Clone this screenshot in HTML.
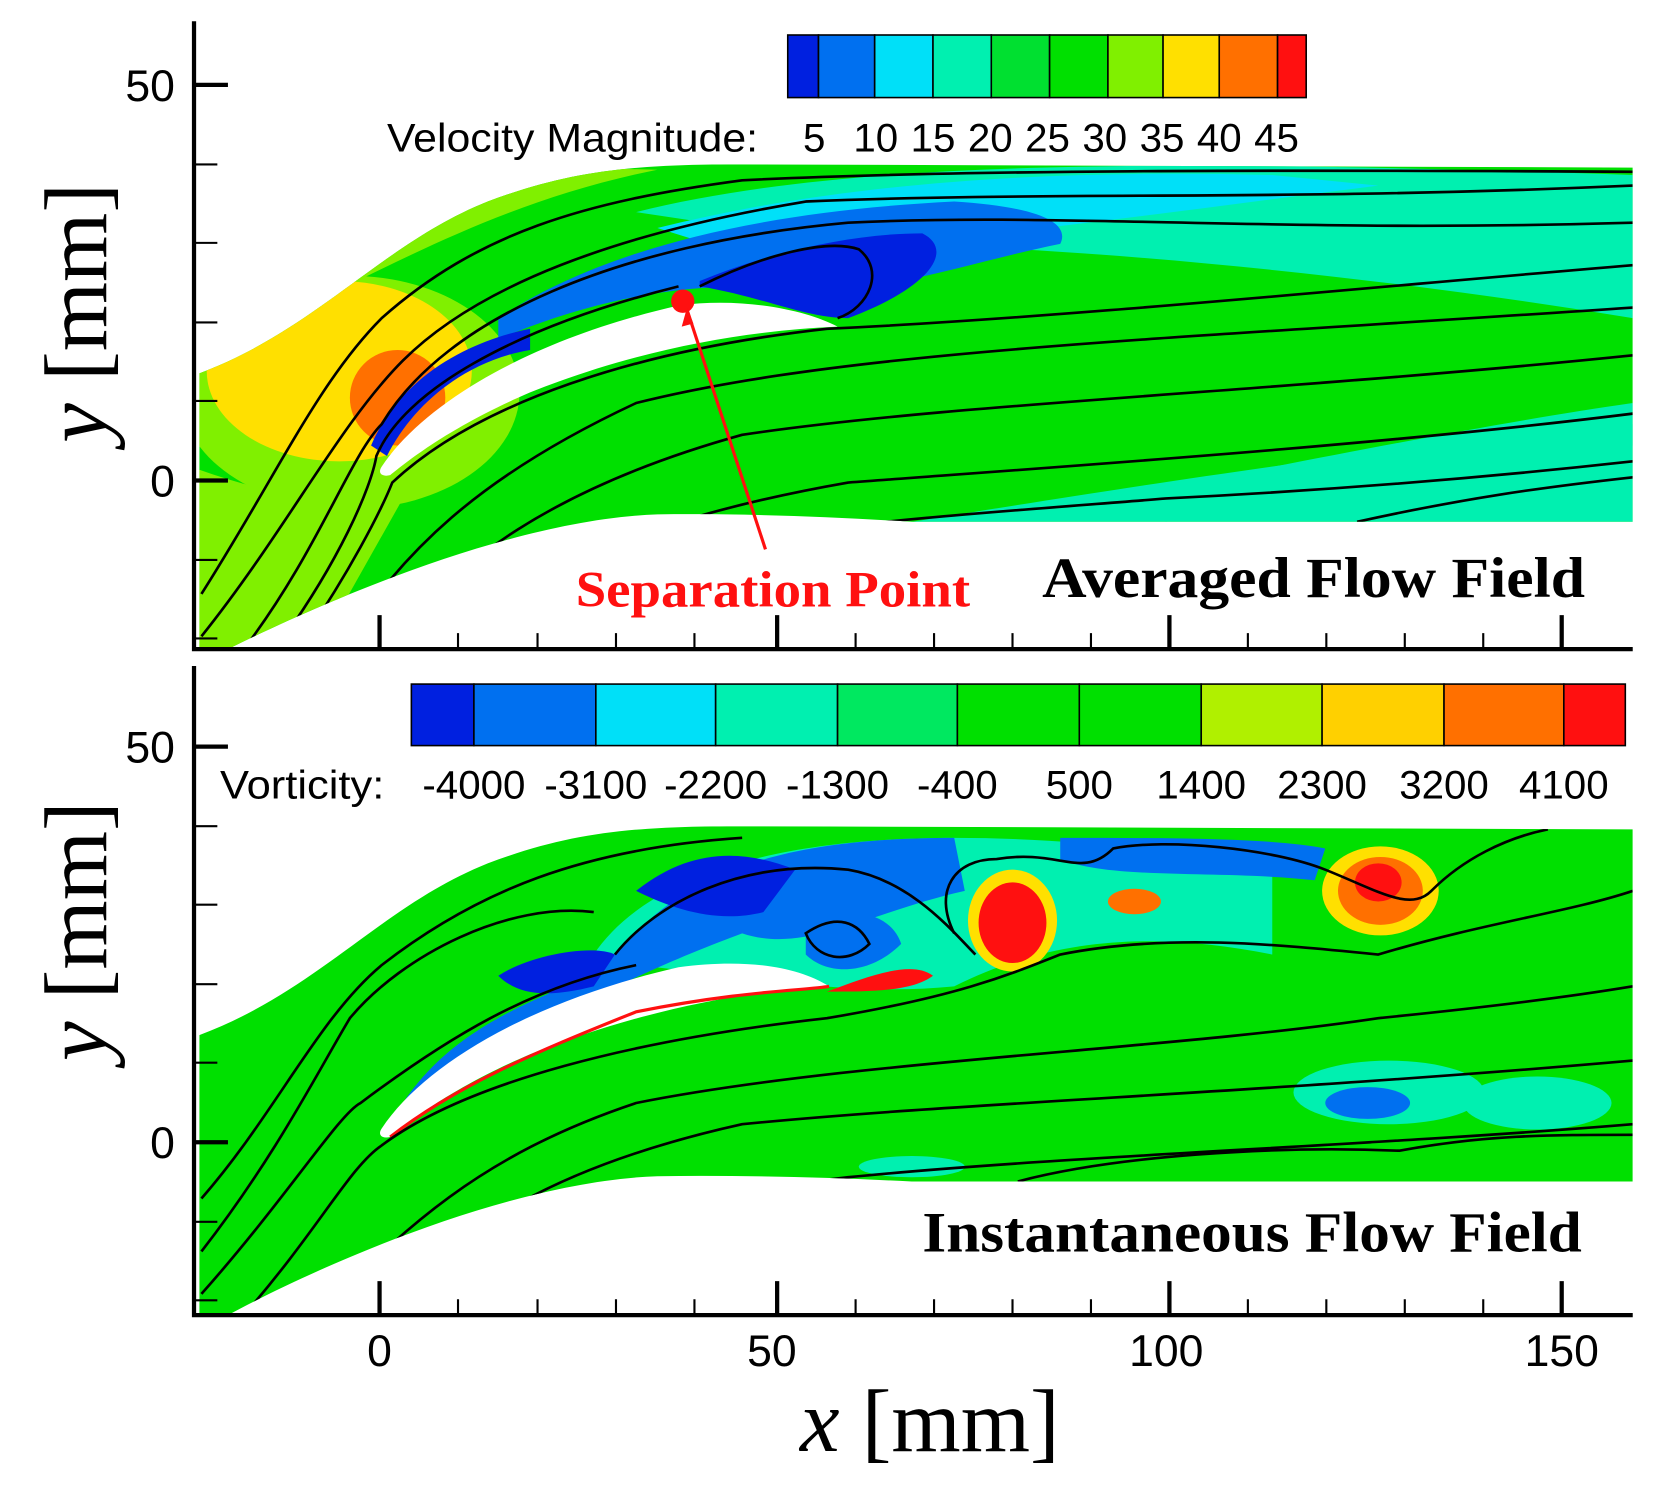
<!DOCTYPE html>
<html><head><meta charset="utf-8"><style>html,body{margin:0;padding:0;background:#fff}svg{display:block}</style></head>
<body>
<svg width="1655" height="1488" viewBox="0 0 1561 1403" preserveAspectRatio="none" xmlns="http://www.w3.org/2000/svg">
<defs>
<clipPath id="d1"><path d="M188,352 C300,310 360,230 460,190 C540,160 600,155 700,155 L1540,158 L1540,492 L860,492 C780,487 700,484 620,485 C480,490 300,570 215,612 L188,612 Z"/></clipPath>
<clipPath id="d2"><path d="M188,976 C300,934 360,854 460,814 C540,784 600,779 700,779 L1540,782 L1540,1114 L860,1114 C780,1110 700,1108 620,1109 C480,1114 300,1194 215,1240 L188,1240 Z"/></clipPath>
</defs>
<g clip-path="url(#d1)">
<rect x="180" y="140" width="1370" height="480" fill="#00e000"/>
<path d="M180,330 C300,300 420,200 620,160 L180,150 Z" fill="#80f000"/>
<ellipse cx="330" cy="370" rx="160" ry="110" fill="#80f000"/>
<path d="M180,610 L180,440 C260,470 340,480 380,470 L300,612 Z" fill="#80f000"/>
<ellipse cx="320" cy="350" rx="125" ry="85" fill="#ffe000"/>
<ellipse cx="375" cy="375" rx="45" ry="45" fill="#ff7000"/>
<path d="M600,200 C800,150 1100,150 1540,165 L1540,300 C1300,260 1000,230 800,230 Z" fill="#00f0b0"/>
<path d="M620,215 C800,170 1000,160 1200,165 L1300,175 C1100,200 900,230 700,240 Z" fill="#00e0f8"/>
<path d="M470,300 C560,240 700,200 900,190 C980,195 1010,210 1000,230 C900,250 800,290 700,270 C620,270 540,290 470,320 Z" fill="#0070f0"/>
<path d="M660,265 C720,240 800,220 870,220 C900,235 880,270 800,300 C760,300 720,280 660,270 Z" fill="#0020e0"/>
<path d="M860,492 C1000,470 1300,420 1540,400 L1540,492 Z" fill="#00f0b0"/>
<path d="M1000,480 C1200,440 1400,400 1540,380 L1540,420 C1400,440 1200,470 1100,492 Z" fill="#00f0b0"/>
<path d="M350,420 C380,350 450,320 500,310 L500,330 C440,340 390,380 365,430 Z" fill="#0020e0"/>
<path d="M360,440 C400,380 500,320 640,288 C700,280 760,292 790,308 C700,312 600,330 500,370 C430,400 390,430 368,448 C360,450 356,446 360,440 Z" fill="#fff"/>
<g fill="none" stroke="#000" stroke-width="2.5">
<path d="M660,270 C720,240 780,225 810,235 C835,255 820,290 790,300"/>
<path d="M190,560 C260,450 300,360 360,300 C450,220 550,190 700,170 C900,160 1200,160 1540,162"/>
<path d="M190,600 C270,500 320,400 380,340 C450,270 580,220 760,190 C1000,180 1200,190 1540,175"/>
<path d="M230,612 C300,520 330,430 360,400 C420,300 580,230 800,210 C1000,200 1200,220 1540,210"/>
<path d="M260,612 C320,530 350,460 355,430 C380,370 480,310 640,270"/>
<path d="M280,612 C330,540 360,480 370,455 C450,380 600,330 780,310 C1000,300 1300,270 1540,250"/>
<path d="M320,612 C380,520 450,450 600,380 C800,330 1100,320 1540,290"/>
<path d="M360,612 C430,530 520,460 700,410 C900,380 1200,370 1540,335"/>
<path d="M420,612 C500,540 600,490 800,455 C1000,440 1300,420 1540,390"/>
<path d="M520,560 C650,500 850,490 1100,470 C1300,460 1450,445 1540,435"/>
<path d="M1280,492 C1380,470 1450,460 1540,450"/>
</g>
</g>
<g clip-path="url(#d2)">
<rect x="180" y="770" width="1370" height="480" fill="#00e000"/>
<path d="M560,900 C600,840 700,790 900,790 C1000,790 1100,800 1200,820 L1200,900 C1100,880 1000,880 900,930 C800,940 700,920 600,910 Z" fill="#00f0b0"/>
<path d="M380,1040 C420,980 480,950 560,920 L580,900 C640,830 720,790 900,790 L910,840 C820,860 760,900 700,880 C620,910 500,960 400,1050 Z" fill="#0070f0"/>
<path d="M470,920 C500,900 560,890 580,900 L560,930 C520,940 490,940 470,920 Z" fill="#0020e0"/>
<path d="M600,840 C650,800 700,800 750,820 L720,860 C680,870 640,860 600,840 Z" fill="#0020e0"/>
<path d="M1000,790 C1100,790 1200,790 1250,800 L1240,830 C1150,820 1050,830 1000,810 Z" fill="#0070f0"/>
<path d="M760,880 C800,850 840,860 850,890 C820,920 780,920 760,900 Z" fill="#0070f0"/>
<ellipse cx="955" cy="868" rx="42" ry="48" fill="#ffe000"/>
<ellipse cx="955" cy="870" rx="32" ry="38" fill="#ff1010"/>
<ellipse cx="1302" cy="840" rx="55" ry="42" fill="#ffe000"/>
<ellipse cx="1302" cy="840" rx="40" ry="32" fill="#ff7000"/>
<ellipse cx="1300" cy="832" rx="22" ry="18" fill="#ff1010"/>
<ellipse cx="1070" cy="850" rx="25" ry="12" fill="#ff7000"/>
<path d="M780,935 C820,920 860,905 880,920 C860,935 820,935 780,935 Z" fill="#ff1010"/>
<ellipse cx="1310" cy="1030" rx="90" ry="30" fill="#00f0b0"/>
<ellipse cx="1290" cy="1040" rx="40" ry="15" fill="#0070f0"/>
<ellipse cx="1450" cy="1040" rx="70" ry="25" fill="#00f0b0"/>
<ellipse cx="860" cy="1100" rx="50" ry="10" fill="#00f0b0"/>
<path d="M360,1064 C400,1004 500,944 640,912 C700,904 750,910 782,930 C700,934 600,954 500,994 C430,1024 390,1054 368,1072 C360,1074 356,1070 360,1064 Z" fill="#fff"/>
<path d="M368,1072 C430,1024 500,994 600,954 C700,934 760,934 782,930" fill="none" stroke="#ff1010" stroke-width="3"/>
<g fill="none" stroke="#000" stroke-width="2.5">
<path d="M190,1130 C260,1050 300,960 360,910 C450,840 550,800 700,790"/>
<path d="M190,1180 C260,1090 300,1010 330,960 C380,900 480,850 560,860"/>
<path d="M190,1220 C270,1130 320,1050 340,1040 C420,980 500,930 600,910"/>
<path d="M230,1240 C300,1160 330,1100 360,1080 C440,1020 600,980 780,960 C900,940 950,920 1000,900 C1100,880 1200,890 1300,900 C1400,870 1480,860 1540,840"/>
<path d="M300,1240 C380,1160 450,1090 600,1040 C800,1000 1100,990 1300,960 C1400,950 1480,940 1540,930"/>
<path d="M360,1240 C430,1160 520,1100 700,1060 C900,1040 1200,1030 1540,1000"/>
<path d="M440,1240 C520,1180 620,1130 800,1110 C1000,1090 1300,1080 1540,1060"/>
<path d="M960,1114 C1050,1090 1200,1080 1320,1085 C1400,1070 1460,1070 1540,1070"/>
<path d="M900,880 C880,840 900,810 940,810 C1000,800 1020,830 1050,800 C1100,790 1200,800 1250,820 C1300,840 1330,860 1350,840 C1380,810 1420,790 1460,782"/>
<path d="M760,880 C790,860 810,870 820,890 C800,910 770,905 760,880 Z"/>
<path d="M580,900 C620,850 700,810 800,820 C860,830 900,880 920,900"/>
</g>
</g>
<g stroke="#000" fill="none">
<path d="M183,20 V612 H1540" stroke-width="4"/>
<path d="M183,80 H215 M183,453 H215 M358,612 V580 M733,612 V580 M1103,612 V580 M1473,612 V580" stroke-width="4"/>
<path d="M183,155 H205 M183,229 H205 M183,304 H205 M183,378 H205 M183,528 H205 M183,602 H205 M432,612 V597 M507,612 V597 M581,612 V597 M655,612 V597 M807,612 V597 M881,612 V597 M955,612 V597 M1029,612 V597 M1177,612 V597 M1251,612 V597 M1325,612 V597 M1399,612 V597" stroke-width="2"/>
<path d="M183,628 V1240 H1540" stroke-width="4"/>
<path d="M183,704 H215 M183,1077 H215 M358,1240 V1208 M733,1240 V1208 M1103,1240 V1208 M1473,1240 V1208" stroke-width="4"/>
<path d="M183,779 H205 M183,853 H205 M183,928 H205 M183,1002 H205 M183,1152 H205 M183,1226 H205 M432,1240 V1225 M507,1240 V1225 M581,1240 V1225 M655,1240 V1225 M807,1240 V1225 M881,1240 V1225 M955,1240 V1225 M1029,1240 V1225 M1177,1240 V1225 M1251,1240 V1225 M1325,1240 V1225 M1399,1240 V1225" stroke-width="2"/>
</g>
<g stroke="#000" stroke-width="1.5">
<rect x="743" y="33" width="29" height="59" fill="#0020e0"/>
<rect x="772" y="33" width="53" height="59" fill="#0070f0"/>
<rect x="825" y="33" width="55" height="59" fill="#00e0f8"/>
<rect x="880" y="33" width="55" height="59" fill="#00f0b0"/>
<rect x="935" y="33" width="55" height="59" fill="#00e030"/>
<rect x="990" y="33" width="55" height="59" fill="#00e000"/>
<rect x="1045" y="33" width="52" height="59" fill="#80f000"/>
<rect x="1097" y="33" width="53" height="59" fill="#ffe000"/>
<rect x="1150" y="33" width="55" height="59" fill="#ff7000"/>
<rect x="1205" y="33" width="27" height="59" fill="#ff1010"/>
<rect x="388" y="645" width="59" height="58" fill="#0020e0"/>
<rect x="447" y="645" width="115" height="58" fill="#0070f0"/>
<rect x="562" y="645" width="113" height="58" fill="#00e0f8"/>
<rect x="675" y="645" width="115" height="58" fill="#00f0b0"/>
<rect x="790" y="645" width="113" height="58" fill="#00e860"/>
<rect x="903" y="645" width="115" height="58" fill="#00e000"/>
<rect x="1018" y="645" width="115" height="58" fill="#00e000"/>
<rect x="1133" y="645" width="114" height="58" fill="#b0f000"/>
<rect x="1247" y="645" width="115" height="58" fill="#ffd000"/>
<rect x="1362" y="645" width="113" height="58" fill="#ff7000"/>
<rect x="1475" y="645" width="58" height="58" fill="#ff1010"/>
</g>
<g font-family="Liberation Sans, sans-serif" font-size="38" fill="#000" text-anchor="middle">
<text x="540" y="143" textLength="350" lengthAdjust="spacingAndGlyphs">Velocity Magnitude:</text>
<text x="768" y="143">5</text><text x="826" y="143">10</text><text x="880" y="143">15</text><text x="934" y="143">20</text><text x="988" y="143">25</text><text x="1042" y="143">30</text><text x="1096" y="143">35</text><text x="1150" y="143">40</text><text x="1204" y="143">45</text>
<text x="285" y="753" textLength="155" lengthAdjust="spacingAndGlyphs">Vorticity:</text>
<text x="447" y="753">-4000</text><text x="562" y="753">-3100</text><text x="675" y="753">-2200</text><text x="790" y="753">-1300</text><text x="903" y="753">-400</text><text x="1018" y="753">500</text><text x="1133" y="753">1400</text><text x="1247" y="753">2300</text><text x="1362" y="753">3200</text><text x="1475" y="753">4100</text>
</g>
<g font-family="Liberation Sans, sans-serif" font-size="42" fill="#000">
<text x="165" y="95" text-anchor="end">50</text><text x="165" y="468" text-anchor="end">0</text>
<text x="165" y="719" text-anchor="end">50</text><text x="165" y="1092" text-anchor="end">0</text>
<text x="358" y="1288" text-anchor="middle">0</text><text x="728" y="1288" text-anchor="middle">50</text><text x="1100" y="1288" text-anchor="middle">100</text><text x="1473" y="1288" text-anchor="middle">150</text>
</g>
<g font-family="Liberation Serif, serif" font-weight="bold">
<text x="983" y="563" fill="#000" font-size="54" textLength="512" lengthAdjust="spacingAndGlyphs">Averaged Flow Field</text>
<text x="870" y="1180" fill="#000" font-size="54" textLength="622" lengthAdjust="spacingAndGlyphs">Instantaneous Flow Field</text>
<text x="543" y="572" fill="#ff1010" font-size="48" textLength="372" lengthAdjust="spacingAndGlyphs">Separation Point</text>
</g>
<circle cx="644" cy="284" r="11" fill="#ff1010"/>
<path d="M648,292 L722,518" stroke="#ff1010" stroke-width="3"/>
<path d="M648,290 L643,308 L654,305 Z" fill="#ff1010"/>
<g font-family="Liberation Serif, serif" font-size="84" fill="#000">
<text transform="translate(100,295) rotate(-90)" text-anchor="middle"><tspan font-style="italic">y</tspan> [mm]</text>
<text transform="translate(100,878) rotate(-90)" text-anchor="middle"><tspan font-style="italic">y</tspan> [mm]</text>
<text x="877" y="1368" text-anchor="middle"><tspan font-style="italic">x</tspan> [mm]</text>
</g>
</svg>
</body></html>
